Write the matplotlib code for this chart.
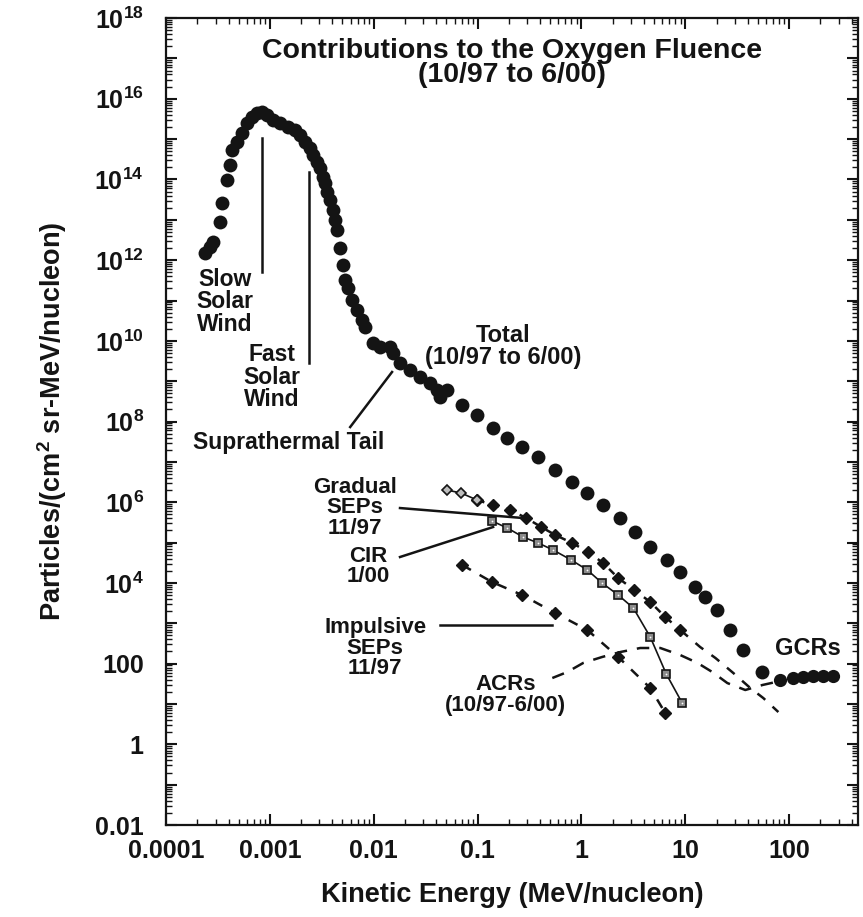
import math
import matplotlib
matplotlib.use("Agg")
import matplotlib.pyplot as plt
from matplotlib.ticker import LogLocator, FuncFormatter, NullFormatter

# total oxygen fluence (10/97 to 6/00), MeV/nucleon vs particles/(cm2 sr MeV/n)
total_e = [2.38e-4, 2.65e-4, 2.84e-4, 3.31e-4, 3.46e-4, 3.87e-4, 4.14e-4, 4.33e-4,
           4.83e-4, 5.40e-4, 6.03e-4, 6.75e-4, 7.53e-4, 8.41e-4, 9.40e-4, 1.07e-3,
           1.25e-3, 1.50e-3, 1.75e-3, 1.95e-3, 2.18e-3, 2.44e-3, 2.61e-3, 2.85e-3,
           3.05e-3, 3.26e-3, 3.40e-3, 3.56e-3, 3.80e-3, 4.06e-3, 4.25e-3, 4.44e-3,
           4.74e-3, 5.07e-3, 5.30e-3, 5.66e-3, 6.19e-3, 6.92e-3, 7.73e-3, 8.26e-3,
           9.86e-3, 1.15e-2, 1.44e-2, 1.54e-2, 1.79e-2, 2.24e-2, 2.80e-2, 3.49e-2,
           4.08e-2, 4.37e-2, 5.09e-2, 7.11e-2, 9.91e-2, 0.141, 0.193, 0.269, 0.384,
           0.560, 0.815, 1.14, 1.62, 2.37, 3.30, 4.60, 6.71, 8.95, 12.5, 15.6, 20.3,
           27.2, 36.2, 55.2]
total_f = [1.50e12, 2.11e12, 2.81e12, 8.79e12, 2.60e13, 9.66e13, 2.28e14, 5.36e14,
           8.45e14, 1.41e15, 2.50e15, 3.52e15, 4.43e15, 4.68e15, 3.94e15, 2.96e15,
           2.50e15, 1.99e15, 1.67e15, 1.26e15, 8.45e14, 6.00e14, 4.03e14, 2.70e14,
           1.92e14, 1.15e14, 8.15e13, 4.88e13, 3.08e13, 1.75e13, 9.86e12, 5.57e12,
           2.00e12, 7.57e11, 3.21e11, 2.04e11, 1.03e11, 5.79e10, 3.28e10, 2.20e10,
           8.83e9, 7.02e9, 7.02e9, 4.99e9, 2.82e9, 1.89e9, 1.27e9, 9.00e8,
           6.04e8, 4.05e8, 6.04e8, 2.56e8, 1.45e8, 6.90e7, 3.90e7, 2.33e7, 1.32e7,
           6.28e6, 3.16e6, 1.69e6, 8.53e5, 4.06e5, 1.83e5, 7.76e4, 3.70e4, 1.86e4,
           7.91e3, 4.48e3, 2.13e3, 681, 217, 61.9]

gcr_e = [82.2, 110, 137, 171, 213, 267]
gcr_f = [39.3, 44.0, 46.6, 49.3, 49.3, 49.3]

grad_e = [0.0991, 0.141, 0.206, 0.294, 0.410, 0.560, 0.815, 1.16, 1.62, 2.26,
          3.23, 4.60, 6.41, 8.95]
grad_f = [1.13e6, 8.53e5, 6.41e5, 4.06e5, 2.43e5, 1.54e5, 9.75e4, 5.83e4, 3.11e4,
          1.32e4, 6.67e3, 3.37e3, 1.43e3, 681]
grad_low_e = [0.0509, 0.0695, 0.0991]
grad_low_f = [2.00e6, 1.69e6, 1.13e6]
grad_ext_e = [8.95, 13.9, 19.5, 29.0, 42.3, 56.4, 78.7]
grad_ext_f = [681, 258, 138, 58.5, 24.8, 14.0, 6.31]

cir_e = [0.138, 0.193, 0.275, 0.384, 0.535, 0.798, 1.14, 1.58, 2.26, 3.16, 4.60,
         6.56, 9.35]
cir_f = [3.42e5, 2.30e5, 1.37e5, 9.75e4, 6.53e4, 3.70e4, 2.09e4, 9.95e3, 5.01e3,
         2.39e3, 456, 55.2, 10.5]

imp_e = [0.0711, 0.138, 0.269, 0.560, 1.14, 2.26, 4.60, 6.41]
imp_f = [2.78e4, 1.05e4, 5.01e3, 1.79e3, 681, 146, 24.8, 5.97]

acr_e = [0.524, 0.730, 1.04, 1.58, 2.37, 3.68, 5.74, 8.95, 13.1, 18.2, 25.4, 37.8,
         55.2, 82.2]
acr_f = [44.0, 61.9, 104, 146, 194, 244, 244, 163, 104, 61.9, 33.0, 22.2, 29.5, 37.1]

x_ticks = [1e-4, 1e-3, 1e-2, 1e-1, 1, 10, 100]
x_labels = ["0.0001", "0.001", "0.01", "0.1", "1", "10", "100"]

plt.rcParams['font.family'] = ['Liberation Sans', 'DejaVu Sans']
plt.rcParams['font.weight'] = 'bold'
plt.rcParams['mathtext.fontset'] = 'custom'
plt.rcParams['mathtext.rm'] = 'Liberation Sans:bold'
plt.rcParams['mathtext.it'] = 'Liberation Sans:bold'
plt.rcParams['mathtext.bf'] = 'Liberation Sans:bold'
plt.rcParams['mathtext.default'] = 'regular'

ink = '#141414'

fig = plt.figure(figsize=(8.63, 9.17), dpi=100)
ax = fig.add_axes([0.1924, 0.1003, 0.8018, 0.8800])
ax.set_xscale('log')
ax.set_yscale('log')

# series
ax.plot(total_e, total_f, 'o', color=ink, ms=10, mew=0)
ax.plot(gcr_e, gcr_f, 'o', color=ink, ms=9.5, mew=0)
ax.plot(grad_ext_e, grad_ext_f, '--', color=ink, lw=1.8, dashes=(4, 4))
ax.plot(grad_e, grad_f, 'D', ls='--', color=ink, ms=6.5, lw=1.8, dashes=(3, 3))
ax.plot(grad_low_e, grad_low_f, 'D', ls='-', color=ink, ms=5.5, mfc='#bdbdbd', mew=1.2, lw=1.2)
ax.plot(cir_e, cir_f, 's', ls='-', color=ink, ms=6, mfc='#8c8c8c', mew=1.2, lw=1.2)
ax.plot(cir_e, cir_f, '.', color='white', ms=2.5, mew=0)
ax.plot(imp_e, imp_f, 'D', ls='--', color=ink, ms=6.5, lw=1.8, dashes=(4, 4))
ax.plot(acr_e, acr_f, '--', color=ink, lw=1.8, dashes=(5, 4))

# leader lines
ax.plot([8.4e-4, 8.4e-4], [1.07e15, 5.07e11], color=ink, lw=1.8)
ax.plot([2.39e-3, 2.39e-3], [1.5e14, 2.8e9], color=ink, lw=1.8)
ax.plot([5.93e-3, 1.50e-2], [7.31e7, 1.69e9], color=ink, lw=1.8)
ax.plot([0.0179, 0.275], [7.18e5, 4.06e5], color=ink, lw=1.8)
ax.plot([0.0179, 0.141], [4.39e4, 2.43e5], color=ink, lw=1.8)
ax.plot([0.0437, 0.524], [906, 906], color=ink, lw=1.8)

# labels on the chart
tk = dict(ha='center', va='center', color=ink, fontweight='bold')
ax.text(3.70e-4, 9.2e10, "Slow\nSolar\nWind", fontsize=16.5, linespacing=0.95, **tk)
ax.text(1.05e-3, 1.27e9, "Fast\nSolar\nWind", fontsize=16.5, linespacing=0.95, **tk)
ax.text(1.50e-3, 3.1e7, "Suprathermal Tail", fontsize=16.5, **tk)
ax.text(0.177, 7.4e9, "Total\n(10/97 to 6/00)", fontsize=17, linespacing=0.95, **tk)
ax.text(6.6e-3, 7.2e5, "Gradual\nSEPs\n11/97", fontsize=16, linespacing=0.95, **tk)
ax.text(8.8e-3, 2.5e4, "CIR\n1/00", fontsize=16, linespacing=0.95, **tk)
ax.text(1.03e-2, 244, "Impulsive\nSEPs\n11/97", fontsize=16, linespacing=0.95, **tk)
ax.text(0.185, 16.7, "ACRs\n(10/97-6/00)", fontsize=16, linespacing=0.95, **tk)
ax.text(153, 244, "GCRs", fontsize=17, **tk)

fig.text(0.593, 0.931, "Contributions to the Oxygen Fluence\n(10/97 to 6/00)",
         fontsize=20.5, linespacing=0.88, **tk)

ax.set_xlim(1e-4, 460)
ax.set_ylim(1e-2, 1e18)

ax.set_xticks(x_ticks)
ax.set_xticklabels(x_labels)
ax.xaxis.set_minor_locator(LogLocator(base=10, subs=range(2, 10), numticks=100))
ax.xaxis.set_minor_formatter(NullFormatter())


def ylab(v, pos):
    n = int(round(math.log10(v)))
    if n % 2:
        return ""
    if n == -2:
        return "0.01"
    if n == 0:
        return "1"
    if n == 2:
        return "100"
    return "$10^{%d}$" % n


ax.yaxis.set_major_locator(LogLocator(base=10, subs=(1.0,), numticks=100))
ax.yaxis.set_major_formatter(FuncFormatter(ylab))
ax.yaxis.set_minor_locator(LogLocator(base=10, subs=range(2, 10), numticks=100))
ax.yaxis.set_minor_formatter(NullFormatter())

ax.tick_params(which='both', direction='in', top=True, right=True, color=ink,
               labelsize=18, labelcolor=ink)
ax.tick_params(which='major', length=8, width=1.5, pad=10)
ax.tick_params(axis='y', which='major', pad=16)
ax.tick_params(which='minor', length=4, width=1.0)
for s in ax.spines.values():
    s.set_linewidth(1.6)
    s.set_color(ink)

ax.set_xlabel("Kinetic Energy (MeV/nucleon)", fontsize=19.5, fontweight='bold',
              color=ink, labelpad=14)
ax.set_ylabel("Particles/(cm$^2$ sr-MeV/nucleon)", fontsize=19.5, fontweight='bold',
              color=ink, labelpad=18)

fig.savefig("out.png", dpi=100)
